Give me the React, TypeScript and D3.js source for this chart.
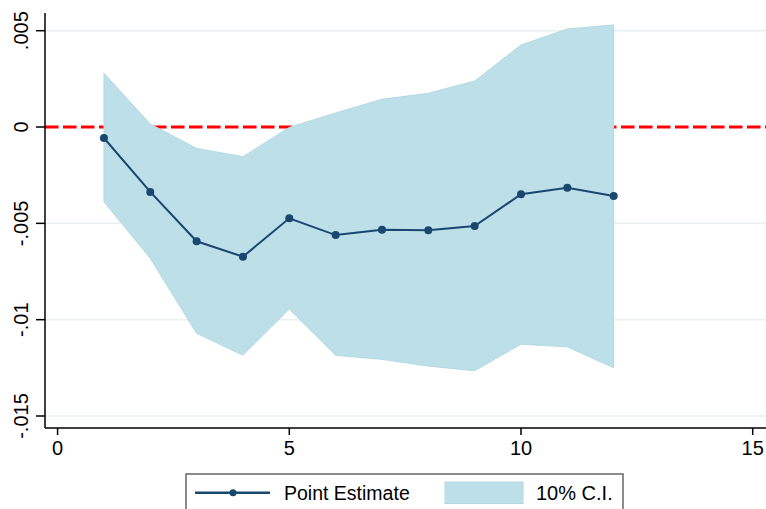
import * as d3 from "d3";

const WIDTH = 766;
const HEIGHT = 509;

// plot frame (pixel positions of the axes)
const AXIS_LEFT = 45;
const AXIS_BOTTOM = 428;
const AXIS_TOP = 13;
const RIGHT_EDGE = 766;

const FONT = "'Liberation Sans', Arial, sans-serif";

// data
const periods = [1, 2, 3, 4, 5, 6, 7, 8, 9, 10, 11, 12];
const pointEstimate = [
  -0.00057, -0.00337, -0.00593, -0.00673, -0.00474, -0.00561, -0.00533,
  -0.00536, -0.00514, -0.00349, -0.00315, -0.00358,
];
const ciUpper = [
  0.00279, 0.00016, -0.00111, -0.00154, -0.00002, 0.00073, 0.00144, 0.00175,
  0.00239, 0.00426, 0.00509, 0.0053,
];
const ciLower = [
  -0.00388, -0.00682, -0.01071, -0.01185, -0.00945, -0.01185, -0.01206,
  -0.01241, -0.01265, -0.01127, -0.01141, -0.0125,
];

const xTicks = [0, 5, 10, 15];
const yTicks = [0.005, 0, -0.005, -0.01, -0.015];
const yTickLabels = [".005", "0", "-.005", "-.01", "-.015"];

const legendLabels = ["Point Estimate", "10% C.I."];

const NAVY = "#1a476f";
const CI_FILL = "#bddfe8";

export default function App() {
  const xScale = d3.scaleLinear().domain([0, 15]).range([57.6, 752.7]);
  const yScale = d3.scaleLinear().domain([0.005, -0.015]).range([30.7, 416]);

  const rows = periods.map((p, i) => ({
    x: p,
    y: pointEstimate[i],
    lo: ciLower[i],
    hi: ciUpper[i],
  }));

  const areaPath = d3
    .area<{ x: number; lo: number; hi: number }>()
    .x((d) => xScale(d.x))
    .y0((d) => yScale(d.lo))
    .y1((d) => yScale(d.hi))(rows);

  const linePath = d3
    .line<{ x: number; y: number }>()
    .x((d) => xScale(d.x))
    .y((d) => yScale(d.y))(rows);

  return (
    <div style={{ position: "fixed", left: 0, top: 0 }}>
      <svg width={WIDTH} height={HEIGHT} style={{ display: "block", background: "#fff" }}>
        {/* grid */}
        {yTicks.map((t) => (
          <line
            key={"g" + t}
            x1={AXIS_LEFT}
            x2={RIGHT_EDGE}
            y1={yScale(t)}
            y2={yScale(t)}
            stroke="#e8f0f2"
            strokeWidth={1.5}
          />
        ))}

        {/* zero reference line */}
        <line
          x1={AXIS_LEFT}
          x2={RIGHT_EDGE}
          y1={yScale(0)}
          y2={yScale(0)}
          stroke="#ff0000"
          strokeWidth={3}
          strokeDasharray="13.5 4.5"
        />

        {/* confidence band */}
        <path d={areaPath ?? ""} fill={CI_FILL} stroke="#b2d9e4" strokeWidth={1} />

        {/* point estimates */}
        <path d={linePath ?? ""} fill="none" stroke={NAVY} strokeWidth={2} />
        {rows.map((d) => (
          <circle key={"p" + d.x} cx={xScale(d.x)} cy={yScale(d.y)} r={4} fill={NAVY} />
        ))}

        {/* y axis */}
        <line x1={AXIS_LEFT} x2={AXIS_LEFT} y1={AXIS_TOP} y2={AXIS_BOTTOM} stroke="#000" strokeWidth={1.5} />
        {yTicks.map((t, i) => (
          <g key={"y" + t}>
            <line x1={36} x2={AXIS_LEFT} y1={yScale(t)} y2={yScale(t)} stroke="#000" strokeWidth={1.5} />
            <text
              transform={`translate(28,${yScale(t)}) rotate(-90)`}
              textAnchor="middle"
              fontFamily={FONT}
              fontSize={20}
              fill="#000"
            >
              {yTickLabels[i]}
            </text>
          </g>
        ))}

        {/* x axis */}
        <line x1={AXIS_LEFT} x2={RIGHT_EDGE} y1={AXIS_BOTTOM} y2={AXIS_BOTTOM} stroke="#000" strokeWidth={1.5} />
        {xTicks.map((t) => (
          <g key={"x" + t}>
            <line x1={xScale(t)} x2={xScale(t)} y1={AXIS_BOTTOM} y2={435} stroke="#000" strokeWidth={1.5} />
            <text x={xScale(t)} y={455} textAnchor="middle" fontFamily={FONT} fontSize={20} fill="#000">
              {t}
            </text>
          </g>
        ))}

        {/* legend */}
        <rect x={186} y={474} width={437} height={50} fill="#fff" stroke="#666" strokeWidth={1.5} />
        <line x1={195} x2={270} y1={492.7} y2={492.7} stroke={NAVY} strokeWidth={2.5} />
        <circle cx={233} cy={492.7} r={3.5} fill={NAVY} />
        <text x={284} y={500} fontFamily={FONT} fontSize={19.5} fill="#000">
          {legendLabels[0]}
        </text>
        <rect x={445} y={482} width={78} height={21.5} fill={CI_FILL} stroke="#b2d9e4" strokeWidth={1} />
        <text x={536} y={500} fontFamily={FONT} fontSize={20} fill="#000">
          {legendLabels[1]}
        </text>
      </svg>
    </div>
  );
}
